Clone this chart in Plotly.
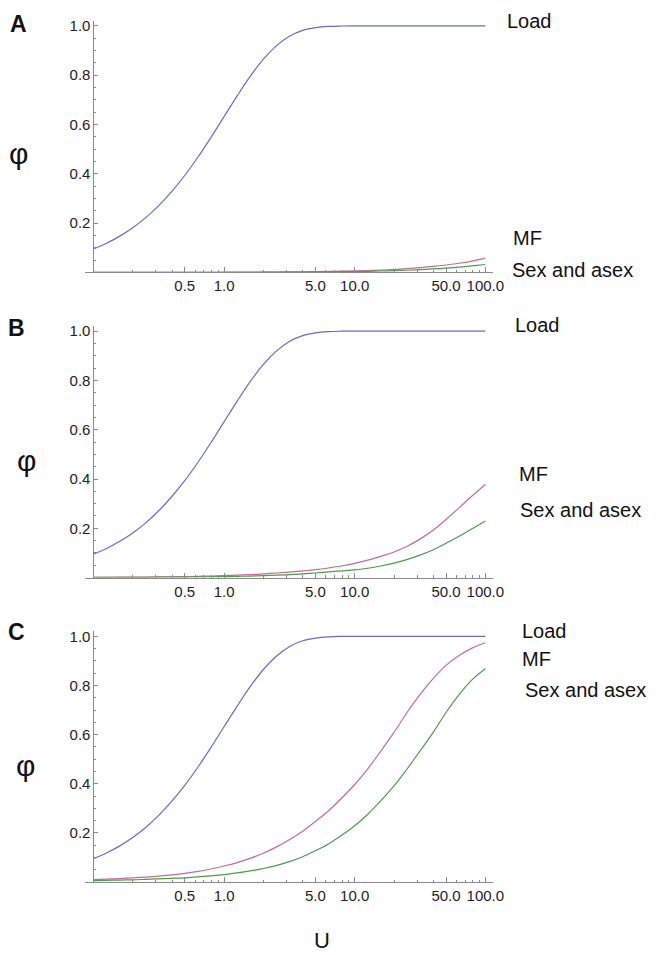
import plotly.graph_objects as go

# ---------------- data ----------------
U = [0.1, 0.126, 0.158, 0.2, 0.25, 0.316, 0.4, 0.5, 0.63, 0.79,
     1, 1.26, 1.58, 2, 2.5, 3.16, 4, 5, 6.3, 7.9,
     10, 12.6, 15.8, 20, 25, 31.6, 40, 50, 63, 79, 100]

load = [0.095, 0.118, 0.146, 0.181, 0.221, 0.271, 0.33, 0.393, 0.467, 0.546,
        0.632, 0.716, 0.794, 0.865, 0.918, 0.958, 0.982, 0.993, 0.998, 0.9996,
        1.0, 1.0, 1.0, 1.0, 1.0, 1.0, 1.0, 1.0, 1.0, 1.0, 1.0]

mf_A = [0.0001, 0.0001, 0.0001, 0.0001, 0.0002, 0.0002, 0.0003, 0.0003, 0.0004, 0.0005,
        0.0006, 0.0008, 0.001, 0.0012, 0.0015, 0.0019, 0.0024, 0.003, 0.0038, 0.0048,
        0.006, 0.0075, 0.0095, 0.012, 0.015, 0.019, 0.024, 0.030, 0.037, 0.046, 0.058]
sex_A = [0.0, 0.0, 0.0001, 0.0001, 0.0001, 0.0001, 0.0001, 0.0002, 0.0002, 0.0003,
         0.0003, 0.0004, 0.0005, 0.0007, 0.0009, 0.0011, 0.0014, 0.0017, 0.0022, 0.0028,
         0.0035, 0.0044, 0.0055, 0.007, 0.0087, 0.011, 0.0138, 0.017, 0.021, 0.026, 0.032]

mf_B = [0.001, 0.0012, 0.0015, 0.0018, 0.0022, 0.0027, 0.0033, 0.004, 0.005, 0.0063,
        0.008, 0.0098, 0.012, 0.015, 0.0185, 0.0225, 0.027, 0.032, 0.039, 0.047,
        0.058, 0.071, 0.086, 0.104, 0.126, 0.156, 0.193, 0.236, 0.283, 0.331, 0.378]
sex_B = [0.0005, 0.0006, 0.0008, 0.001, 0.0012, 0.0015, 0.0018, 0.0021, 0.0026, 0.0032,
         0.004, 0.005, 0.0062, 0.0078, 0.0097, 0.012, 0.015, 0.0185, 0.023, 0.027,
         0.031, 0.038, 0.047, 0.059, 0.073, 0.091, 0.113, 0.139, 0.168, 0.198, 0.23]

mf_C = [0.01, 0.012, 0.014, 0.017, 0.02, 0.024, 0.029, 0.035, 0.043, 0.053,
        0.065, 0.079, 0.096, 0.117, 0.142, 0.172, 0.207, 0.246, 0.29, 0.34,
        0.397, 0.461, 0.532, 0.609, 0.688, 0.763, 0.829, 0.882, 0.922, 0.952, 0.974]
sex_C = [0.006, 0.007, 0.008, 0.009, 0.011, 0.013, 0.015, 0.017, 0.021, 0.025,
         0.03, 0.037, 0.045, 0.055, 0.067, 0.083, 0.103, 0.127, 0.155, 0.189,
         0.229, 0.276, 0.33, 0.391, 0.458, 0.533, 0.61, 0.69, 0.763, 0.823, 0.868]

panels = ["A", "B", "C"]
series_names = ["Load", "MF", "Sex and asex"]
panel_series = {"A": [load, mf_A, sex_A], "B": [load, mf_B, sex_B], "C": [load, mf_C, sex_C]}

x_tickvals = [0.5, 1, 5, 10, 50, 100]
x_ticktext = ["0.5", "1.0", "5.0", "10.0", "50.0", "100.0"]
x_minor = [0.2, 0.3, 0.4, 0.6, 0.7, 0.8, 0.9, 2, 3, 4, 6, 7, 8, 9, 20, 30, 40, 60, 70, 80, 90]
y_tickvals = [0.2, 0.4, 0.6, 0.8, 1.0]
y_ticktext = ["0.2", "0.4", "0.6", "0.8", "1.0"]
y_minor = [0.05, 0.1, 0.15, 0.25, 0.3, 0.35, 0.45, 0.5, 0.55, 0.65, 0.7, 0.75, 0.85, 0.9, 0.95]

# ---------------- styling / layout ----------------
W, H = 664, 955
colors = ["#6b6bc6", "#c06e93", "#4f9a4f"]
FONT = "Liberation Sans, Arial, Helvetica, sans-serif"
AXC = "#8a8a8a"

x_origin_px, x_100_px = 95.0, 493.5
dec_px = (x_100_px - x_origin_px) / 3.0
xr = [-1.065, 2.06]
x_left_px = x_origin_px + (xr[0] + 1) * dec_px
x_right_px = x_100_px + (xr[1] - 2) * dec_px
xdom = [x_left_px / W, x_right_px / W]
ypos = x_origin_px / W

# y pixel of phi=0 and phi=1 per panel
panel_px = {"A": (269.5, 22.0), "B": (576.0, 328.5), "C": (881.7, 635.0)}
yr = [0, 1.02]

fig = go.Figure()
layout = dict(width=W, height=H, margin=dict(l=0, r=0, t=0, b=0),
              paper_bgcolor="white", plot_bgcolor="white", showlegend=False)
annotations = []

for i, p in enumerate(panels):
    n = "" if i == 0 else str(i + 1)
    y0px, y1px = panel_px[p]
    span = (y0px - y1px)
    top_px = y0px - yr[1] * span
    ydom = [1 - y0px / H, 1 - top_px / H]
    for name, vals, c in zip(series_names, panel_series[p], colors):
        fig.add_trace(go.Scatter(x=U, y=vals, mode="lines", name=name,
                                 line=dict(color=c, width=1.2, shape="spline", smoothing=1.0),
                                 xaxis="x" + n, yaxis="y" + n, hoverinfo="skip"))
    layout["xaxis" + n] = dict(
        type="log", range=xr, domain=xdom, anchor="y" + n,
        showline=True, linecolor=AXC, linewidth=1, showgrid=False, zeroline=False,
        tickmode="array", tickvals=x_tickvals, ticktext=x_ticktext,
        ticks="inside", ticklen=5, tickcolor=AXC, tickwidth=1,
        minor=dict(tickmode="array", tickvals=x_minor, ticks="inside", ticklen=2.5,
                   tickcolor=AXC, tickwidth=1, showgrid=False),
        tickfont=dict(family=FONT, size=15, color="#222"))
    layout["yaxis" + n] = dict(
        range=yr, domain=ydom, anchor="free", position=ypos,
        showline=True, linecolor=AXC, linewidth=1, showgrid=False, zeroline=False,
        tickmode="array", tickvals=y_tickvals, ticktext=y_ticktext,
        ticks="inside", ticklen=4, tickcolor=AXC, tickwidth=1,
        minor=dict(tickmode="array", tickvals=y_minor, ticks="inside", ticklen=2,
                   tickcolor=AXC, tickwidth=1, showgrid=False),
        tickfont=dict(family=FONT, size=15, color="#222"))

# text labels (pixel positions -> paper)
def ann(text, xpx, ypx, size, bold=False, xanchor="left", yanchor="middle"):
    annotations.append(dict(
        text=("<b>%s</b>" % text) if bold else text, x=xpx / W, y=1 - ypx / H,
        xref="paper", yref="paper", xanchor=xanchor, yanchor=yanchor, showarrow=False,
        font=dict(family=FONT, size=size, color="#111")))

label_pos = {
    "A": [(514, 17.5), (520, 235), (519, 267)],
    "B": [(522, 322.5), (526, 472), (527, 508)],
    "C": [(529, 629.5), (529, 658), (532, 689)],
}
letter_pos = {"A": (19, 20.5), "B": (17, 325), "C": (17, 631)}
phi_pos = {"A": (19, 150), "B": (27, 458), "C": (26, 765)}

for p in panels:
    for name, (xp, yp) in zip(series_names, label_pos[p]):
        ann(name, xp, yp, 20)
    ann(p, letter_pos[p][0], letter_pos[p][1], 23, bold=True, xanchor="center")
    ann("φ", phi_pos[p][0], phi_pos[p][1], 30, xanchor="center")

ann("U", 327, 955, 22, xanchor="center", yanchor="bottom")

layout["annotations"] = annotations
fig.update_layout(**layout)
fig.write_html("out.html", config={"displayModeBar": False},
               post_script="document.body.style.margin='0px';")
